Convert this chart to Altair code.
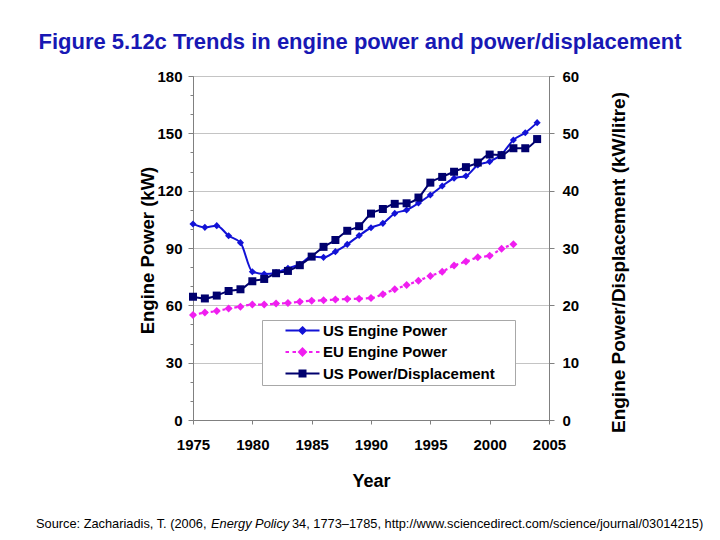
import altair as alt
import pandas as pd

# ---------------- data ----------------
years = list(range(1975, 2005))
us_power = [102.6, 100.8, 101.7, 96.4, 92.8, 77.6, 76.4, 77.1, 79.4, 81.5,
            85.5, 85.1, 88.1, 91.9, 96.5, 100.6, 102.9, 108.1, 109.9, 113.5,
            117.7, 122.4, 126.5, 127.7, 133.4, 135.2, 139.0, 146.5, 150.3, 155.6]
us_pd = [21.5, 21.2, 21.7, 22.5, 22.8, 24.2, 24.6, 25.6, 26.0, 27.0,
         28.5, 30.2, 31.4, 33.0, 33.8, 36.0, 36.8, 37.7, 37.8, 38.8,
         41.4, 42.4, 43.3, 44.1, 44.9, 46.3, 46.2, 47.4, 47.4, 49.0]
eu_years = list(range(1975, 2003))
eu_power = [54.9, 56.2, 57.0, 58.3, 59.3, 60.4, 60.4, 60.9, 61.2, 61.9,
            62.4, 62.6, 63.0, 63.3, 63.5, 63.8, 65.8, 68.4, 70.6, 72.9,
            75.4, 77.6, 80.8, 82.9, 85.1, 86.0, 89.6, 91.9]

series_names = ["US Engine Power", "EU Engine Power", "US Power/Displacement"]
series_colors = ["#1212d6", "#f01ef0", "#00006e"]
x_ticks = [1975, 1980, 1985, 1990, 1995, 2000, 2005]
left_ticks = list(range(0, 181, 10))
right_ticks = list(range(0, 61, 10))

title_text = "Figure 5.12c Trends in engine power and power/displacement"
source_parts = ["Source: Zachariadis, T. (2006, ", "Energy Policy",
                "34, 1773\u20131785, http://www.sciencedirect.com/science/journal/03014215)"]

FONT = "Liberation Sans"

# legend symbols (stroked): line + marker drawn as nested outlines so it looks solid
legend_shapes = [
    "M-3.4,0L3.4,0M0,-0.64L0.64,0L0,0.64L-0.64,0ZM0,-0.14L0.14,0L0,0.14L-0.14,0Z",
    "M-3.4,0L-2.7,0M-2.0,0L-1.3,0M1.3,0L2.0,0M2.7,0L3.4,0"
    "M0,-0.7L0.7,0L0,0.7L-0.7,0ZM0,-0.16L0.16,0L0,0.16L-0.16,0Z",
    "M-3.4,0L3.4,0M-0.6,-0.6L0.6,-0.6L0.6,0.6L-0.6,0.6ZM-0.2,-0.2L0.2,-0.2L0.2,0.2L-0.2,0.2Z",
]

us_df = pd.DataFrame({"year": years, "value": us_power, "series": series_names[0]})
eu_df = pd.DataFrame({"year": eu_years, "value": eu_power, "series": series_names[1]})
pd_df = pd.DataFrame({"year": years, "value": us_pd, "series": series_names[2]})
legend_df = pd.concat([us_df, eu_df], ignore_index=True)
legend_df = pd.concat([legend_df, pd_df.assign(value=pd_df["value"] * 3)], ignore_index=True)

x_enc = alt.X(
    "year:Q",
    scale=alt.Scale(domain=[1975, 2005], nice=False, zero=False),
    axis=alt.Axis(
        values=x_ticks, format="d", title="Year",
        labelFont=FONT, labelFontSize=15, labelFontWeight="bold", labelColor="black",
        titleFont=FONT, titleFontSize=18, titleFontWeight="bold", titleColor="black",
        domainColor="#808080", tickColor="#808080", tickSize=4, labelPadding=13,
        titlePadding=20, grid=False, labelFlush=False,
    ),
)

left_axis = alt.Axis(
    values=left_ticks,
    labelExpr="datum.value % 30 === 0 ? datum.label : ''",
    title="Engine Power (kW)",
    labelFont=FONT, labelFontSize=15, labelFontWeight="bold", labelColor="black",
    titleFont=FONT, titleFontSize=18.5, titleFontWeight="bold", titleColor="black",
    titleBaseline="middle", titleX=-46, titleY=174, titleAngle=270,
    domainColor="#808080", tickColor="#808080",
    tickSize={"condition": {"test": "datum.value % 30 === 0", "value": 5}, "value": 3},
    labelPadding=6,
    grid=True, gridColor="#c4c4c4",
    gridOpacity={"condition": {"test": "datum.value % 30 === 0", "value": 1}, "value": 0},
)
right_axis = alt.Axis(
    orient="right", values=right_ticks,
    title="Engine Power/Displacement (kW/litre)",
    labelFont=FONT, labelFontSize=15, labelFontWeight="bold", labelColor="black",
    titleFont=FONT, titleFontSize=19, titleFontWeight="bold", titleColor="black",
    titleBaseline="middle", titleX=69, titleY=186, titleAngle=270,
    domainColor="#808080", tickColor="#808080", tickSize=5, labelPadding=8,
    grid=False,
)

y_left = alt.Y("value:Q", scale=alt.Scale(domain=[0, 180], nice=False), axis=left_axis)
y_right = alt.Y("value:Q", scale=alt.Scale(domain=[0, 60], nice=False), axis=right_axis)

us_line = alt.Chart(us_df).mark_line(color=series_colors[0], strokeWidth=2, interpolate="monotone").encode(x=x_enc, y=y_left)
us_pts = alt.Chart(us_df).mark_point(shape="diamond", filled=True, size=50, opacity=1,
                                      color=series_colors[0]).encode(x=x_enc, y=y_left)
eu_line = alt.Chart(eu_df).mark_line(color=series_colors[1], strokeWidth=2.2, strokeDash=[3, 3],
                                     interpolate="monotone").encode(x=x_enc, y=y_left)
eu_pts = alt.Chart(eu_df).mark_point(shape="diamond", filled=True, size=64, opacity=1,
                                      color=series_colors[1]).encode(x=x_enc, y=y_left)

legend_layer = alt.Chart(legend_df).mark_point(filled=False, opacity=0).encode(
    x=x_enc, y=y_left,
    color=alt.Color("series:N", scale=alt.Scale(domain=series_names, range=series_colors),
                    legend=alt.Legend(
                        orient="none", legendX=69, legendY=244, title=None,
                        padding=3, fillColor="white", strokeColor="#a8a8a8",
                        symbolOffset=30, labelOffset=13, symbolSize=100, symbolStrokeWidth=2,
                        symbolOpacity=1, labelFont=FONT, labelFontSize=15, labelFontWeight="bold",
                        labelColor="black", rowPadding=5.5, labelLimit=400,
                        labelExpr="datum.label + '\u00a0\u00a0\u00a0\u00a0\u200b'",
                    )),
    shape=alt.Shape("series:N", scale=alt.Scale(domain=series_names, range=legend_shapes)),
)

src_df = pd.DataFrame({"t": [source_parts[0]]})
src_df2 = pd.DataFrame({"t": [source_parts[1]]})
src_df3 = pd.DataFrame({"t": [source_parts[2]]})
src1 = alt.Chart(src_df).mark_text(font=FONT, fontSize=12.8, align="left", baseline="middle",
                                   color="black").encode(x=alt.value(-157), y=alt.value(448), text="t:N")
src2 = alt.Chart(src_df2).mark_text(font=FONT, fontSize=12.8, align="left", baseline="middle",
                                    fontStyle="italic", color="black").encode(x=alt.value(18), y=alt.value(448), text="t:N")
src3 = alt.Chart(src_df3).mark_text(font=FONT, fontSize=12.8, align="left", baseline="middle",
                                    color="black").encode(x=alt.value(99), y=alt.value(448), text="t:N")

left = alt.layer(us_line, us_pts, eu_line, eu_pts, legend_layer, src1, src2, src3)

pd_line = alt.Chart(pd_df).mark_line(color=series_colors[2], strokeWidth=2, interpolate="monotone").encode(x=x_enc, y=y_right)
pd_pts = alt.Chart(pd_df).mark_point(shape="square", filled=True, size=64, opacity=1,
                                      color=series_colors[2]).encode(x=x_enc, y=y_right)
right = alt.layer(pd_line, pd_pts)

chart = alt.layer(left, right).resolve_scale(y="independent").properties(
    width=356, height=344,
    autosize=alt.AutoSizeParams(type="none"),
    padding={"left": 185, "top": 68, "right": 163, "bottom": 112},
    title=alt.TitleParams(
        title_text, font=FONT, fontSize=22, fontWeight="bold", color="#1818b4",
        anchor="middle", frame="group", offset=15, dx=-11,
    ),
    background="white",
).configure_view(stroke="#808080", strokeWidth=1)

chart.save("out.html", embed_options={"renderer": "svg", "actions": False})
